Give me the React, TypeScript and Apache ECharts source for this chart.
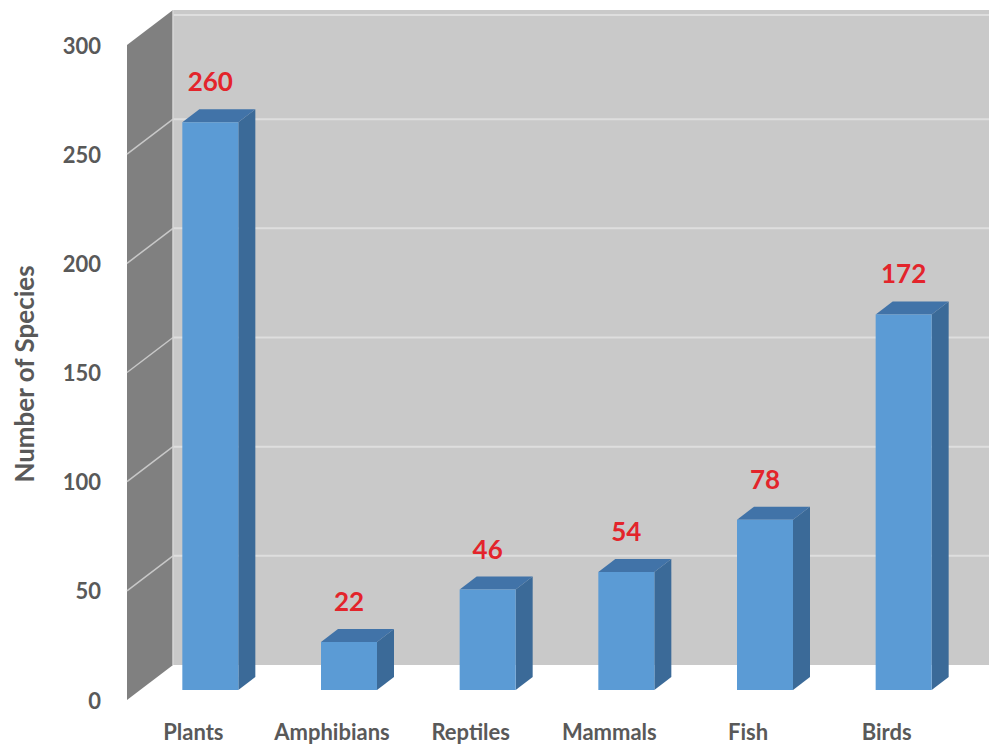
import React, { useEffect, useRef } from "react";
import * as echarts from "echarts";

const categories = ["Plants", "Amphibians", "Reptiles", "Mammals", "Fish", "Birds"];
const species = [260, 22, 46, 54, 78, 172];
const yTicks = [0, 50, 100, 150, 200, 250, 300];
const axisTitle = "Number of Species";

const FONT = "Lato, 'Open Sans', sans-serif";
const TEXT_COLOR = "#595959";
const WALL_DX = 46;
const WALL_DY = -35;
const BAR_DX = 17;
const BAR_DY = -13;
const BAR_SHIFT_X = 17;
const BAR_SHIFT_Y = -10;
const BAR_HALF = 28;

export default function App() {
  const ref = useRef<HTMLDivElement>(null);
  useEffect(() => {
    if (!ref.current) return;
    const chart = echarts.init(ref.current, undefined, { renderer: "svg" });
    const yMax = yTicks[yTicks.length - 1];

    const option: any = {
      animation: false,
      backgroundColor: "#ffffff",
      grid: { left: 124, right: 33, top: 45, bottom: 44, containLabel: false },
      xAxis: {
        type: "category",
        data: categories,
        axisLine: { show: false },
        axisTick: { show: false },
        axisLabel: {
          interval: 0,
          margin: 20,
          fontFamily: FONT,
          fontWeight: "bold",
          fontSize: 22,
          lineHeight: 22,
          color: TEXT_COLOR,
        },
      },
      yAxis: {
        type: "value",
        min: 0,
        max: yMax,
        interval: 50,
        axisLine: { show: false },
        axisTick: { show: false },
        splitLine: { show: false },
        axisLabel: {
          margin: 23,
          fontFamily: FONT,
          fontWeight: "bold",
          fontSize: 22,
          color: TEXT_COLOR,
        },
      },
      graphic: [
        {
          type: "text",
          x: 24,
          y: 374,
          rotation: Math.PI / 2,
          style: {
            text: axisTitle,
            fontFamily: FONT,
            fontWeight: "bold",
            fontSize: 26,
            fill: TEXT_COLOR,
            textAlign: "center",
            textVerticalAlign: "middle",
          },
        },
      ],
      series: [
        {
          type: "custom",
          z: 1,
          silent: true,
          data: [[0, 0]],
          encode: { x: 0, y: 1 },
          renderItem: (params: any, api: any) => {
            const cs = params.coordSys;
            const left = cs.x + 3;
            const y0 = api.coord([0, 0])[1];
            const yT = api.coord([0, yMax])[1];
            const bx = left + WALL_DX;
            const fullW = api.getWidth();
            const children: any[] = [];
            children.push({
              type: "rect",
              shape: { x: bx, y: yT + WALL_DY, width: fullW - bx, height: y0 - yT },
              style: { fill: "#c9c9c9" },
            });
            children.push({
              type: "polygon",
              shape: {
                points: [
                  [left, y0],
                  [left, yT],
                  [bx, yT + WALL_DY],
                  [bx, y0 + WALL_DY],
                ],
              },
              style: { fill: "#808080" },
            });
            yTicks.forEach((v) => {
              if (v === 0) return;
              const y = api.coord([0, v])[1];
              if (v !== yMax) {
                children.push({
                  type: "line",
                  shape: { x1: left, y1: y, x2: bx, y2: y + WALL_DY },
                  style: { stroke: "#c8c8c8", lineWidth: 1.5 },
                });
              }
              const yy = y + WALL_DY + (v === yMax ? 5 : 0);
              children.push({
                type: "line",
                shape: { x1: bx, y1: yy, x2: fullW, y2: yy },
                style: { stroke: "#dedede", lineWidth: 2 },
              });
            });
            children.push({
              type: "line",
              shape: { x1: bx, y1: yT + WALL_DY, x2: bx, y2: y0 + WALL_DY },
              style: { stroke: "#d6d6d6", lineWidth: 1.5 },
            });
            return { type: "group", children };
          },
        },
        {
          type: "custom",
          z: 2,
          data: species.map((v, i) => [i, v]),
          encode: { x: 0, y: 1 },
          renderItem: (params: any, api: any) => {
            const idx = api.value(0);
            const v = api.value(1);
            const p0 = api.coord([idx, 0]);
            const p1 = api.coord([idx, v]);
            const cx = p0[0] + BAR_SHIFT_X;
            const bottom = p0[1] + BAR_SHIFT_Y;
            const top = p1[1] + BAR_SHIFT_Y;
            const l = cx - BAR_HALF;
            const r = cx + BAR_HALF;
            return {
              type: "group",
              children: [
                {
                  type: "polygon",
                  shape: {
                    points: [
                      [r, top],
                      [r + BAR_DX, top + BAR_DY],
                      [r + BAR_DX, bottom + BAR_DY],
                      [r, bottom],
                    ],
                  },
                  style: { fill: "#3b6a98" },
                },
                {
                  type: "polygon",
                  shape: {
                    points: [
                      [l, top],
                      [l + BAR_DX, top + BAR_DY],
                      [r + BAR_DX, top + BAR_DY],
                      [r, top],
                    ],
                  },
                  style: { fill: "#4173a8" },
                },
                {
                  type: "rect",
                  shape: { x: l, y: top, width: r - l, height: bottom - top },
                  style: { fill: "#5b9bd5" },
                },
                {
                  type: "text",
                  x: cx,
                  y: top + BAR_DY - 28,
                  style: {
                    text: String(v),
                    fontFamily: FONT,
                    fontWeight: "bold",
                    fontSize: 26,
                    fill: "#e3242b",
                    textAlign: "center",
                    textVerticalAlign: "middle",
                  },
                },
              ],
            };
          },
        },
      ],
    };
    chart.setOption(option);
    return () => chart.dispose();
  }, []);
  return (
    <div
      ref={ref}
      style={{ position: "fixed", left: 0, top: 0, width: 989, height: 744 }}
    />
  );
}
